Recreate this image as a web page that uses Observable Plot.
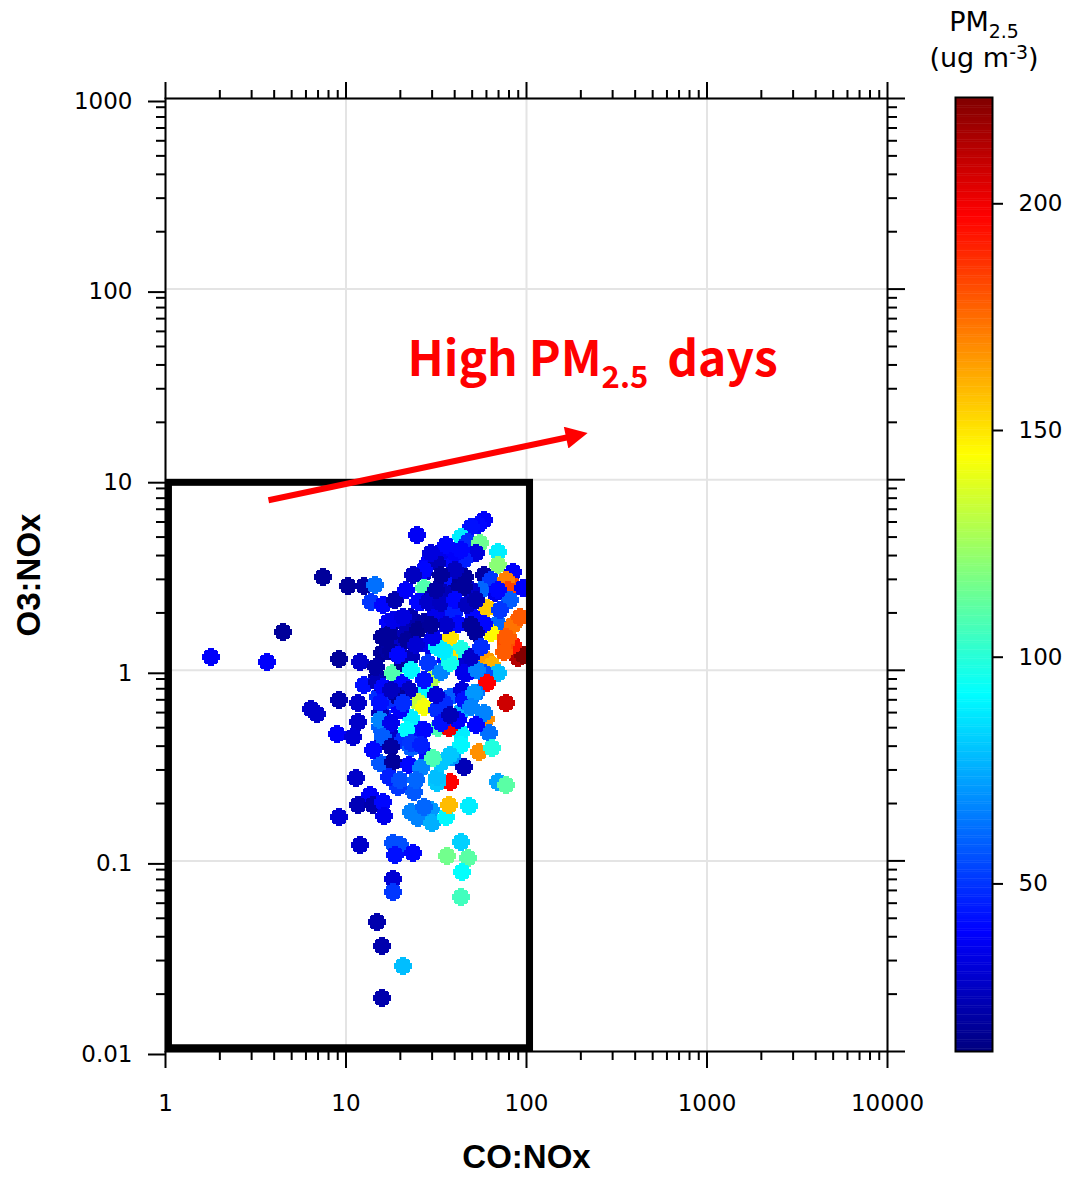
<!DOCTYPE html>
<html>
<head>
<meta charset="utf-8">
<script src="https://cdn.jsdelivr.net/npm/d3@7"></script>
<script src="https://cdn.jsdelivr.net/npm/@observablehq/plot@0.6"></script>
<style>
  html, body { margin: 0; padding: 0; background: white; }
  #wrap { position: relative; width: 1069px; height: 1177px; }
  #wrap svg { position: absolute; left: 0; top: 0; }
  #cbtitle { position: absolute; left: 904px; top: 4px; width: 160px; text-align: center;
    font-family: "DejaVu Sans", sans-serif; font-size: 27px; line-height: 36px; color: #000; }
  #cbtitle sub { font-size: 0.7em; vertical-align: -0.35em; line-height: 0; }
  #cbtitle sup { font-size: 0.7em; vertical-align: 0.45em; line-height: 0; }
</style>
</head>
<body>
<div id="wrap"><div id="cbtitle">PM<sub>2.5</sub><br>(ug m<sup>-3</sup>)</div></div>
<script>
// ---------------- data ----------------
const coNox = [1.78,3.63,4.5,7.5,10.2,12.6,14.4,13.8,9.2,12.0,6.36,6.95,9.2,11.7,11.7,8.97,11.0,14.9,12.6,15.9,
  17.0,15.9,15.1,15.9,15.5,16.1,11.4,9.09,12.0,13.5,11.7,14.2,16.1,16.3,18.3,20.0,18.8,23.4,18.3,18.3,
  23.7,22.8,24.9,29.4,30.1,35.6,37.0,48.3,37.9,32.1,69.1,76.5,43.1,36.5,47.7,44.2,43.1,14.8,15.9,20.8,
  15.9,76.5,59.3,54.9,61.6,64.0,32.5,43.1,44.8,38.9,32.1,25.9,89.2,96.2,84.7,76.5,74.6,78.5,60.8,64.8,
  69.1,57.8,60.8,52.2,47.1,43.1,35.6,28.6,35.6,43.1,37.9,37.0,28.3,32.1,20.0,17.0,16.1,18.3,20.8,29.4,
  26.9,24.9,26.9,20.8,22.2,33.4,37.9,32.1,37.9,43.1,49.0,37.0,43.1,25.2,22.8,20.0,17.0,15.5,18.3,20.8,
  22.8,14.9,14.6,24.6,57.8,54.2,49.0,43.1,47.7,55.6,52.2,69.1,69.1,44.8,37.9,33.4,28.3,26.9,35.6,43.1,
  57.8,63.2,84.7,83.6,76.5,78.5,81.5,67.3,56.2,49.0,39.8,34.7,26.9,28.3,34.2,39.8,40.4,50.9,60.8,69.1,
  63.2,84.7,92.6,76.5,19.3,22.8,26.9,31.6,17.8,21.4,25.2,32.1,40.4,96.2,18.3,20.8,25.9,28.6,26.9,45.9,
  44.8,33.4,39.8,41.5,57.8,52.2,34.7,22.8,17.8,21.9,30.5,24.9,22.8,26.9,44.8,53.5,49.0,56.2,16.1,19.3,
  15.5,20.8,34.7,44.2,44.8,50.9,15.5,17.8,21.9,26.9,33.4,41.5,49.0,57.8,16.1,17.8,22.8,28.3,15.5,18.3,
  22.2,25.9,33.4,30.5,37.9,19.3,17.2,26.9,35.6,29.4,16.1,
  18.8,21.4,23.4,31.6,40.4,47.1,49.0,35.6,29.4,24.3,19.3,17.8,31.6,37.9,52.2,25.9,14.1,20.0,24.3,69.1,
  71.6,52.2,40.4,33.4,43.1];
const o3Nox = [1.17,1.10,1.58,3.08,2.76,2.76,2.79,2.27,1.14,1.10,0.624,0.588,0.696,0.671,0.534,0.461,0.445,0.919,0.834,1.23,
  1.79,1.49,0.722,0.595,0.502,0.429,0.271,0.169,0.121,0.221,0.196,0.196,0.203,0.173,0.124,0.121,0.107,0.110,0.080,0.069,
  0.229,0.180,0.167,0.184,0.159,0.169,0.196,0.193,0.258,0.255,0.258,0.249,0.125,0.106,0.104,0.087,0.0644,0.0476,0.0356,0.028,
  0.019,0.671,0.553,0.371,0.467,0.39,0.496,0.467,0.31,0.35,0.275,0.31,1.156,1.2,1.35,1.39,1.24,1.49,1.13,1.062,
  0.964,0.964,0.855,0.757,0.964,1.088,1.128,1.088,1.32,1.30,1.49,1.17,1.35,1.32,1.35,1.27,1.49,0.964,1.088,0.886,
  0.785,0.679,0.64,0.855,0.785,0.976,1.088,0.617,0.722,0.602,0.64,0.496,0.404,0.484,0.56,0.617,0.696,0.595,0.445,0.429,
  0.39,0.865,1.037,5.11,6.12,5.77,5.63,4.99,4.69,4.64,4.11,4.16,3.55,3.78,3.78,4.16,3.64,3.23,3.04,2.9,
  3.15,2.97,3.27,2.79,2.97,2.63,2.33,2.54,2.63,2.63,2.57,2.54,2.69,2.33,2.14,2.06,1.79,1.9,2.11,1.76,
  1.56,1.72,1.9,1.49,1.83,1.9,1.79,1.99,1.56,1.56,2.27,3.64,4.11,2.69,1.83,1.9,2.27,2.27,3.35,3.08,
  2.73,2.25,1.99,1.76,1.76,1.56,1.27,1.17,1.27,1.44,1.49,1.62,1.0,0.886,0.964,1.0,1.17,1.32,0.814,0.722,
  0.671,0.671,0.671,0.785,0.696,0.757,0.547,0.527,0.484,0.484,0.527,0.547,0.64,0.595,0.445,0.394,0.414,0.35,0.325,0.329,
  0.317,0.306,0.325,0.345,0.358,0.243,0.275,0.191,4.53,4.11,2.19,
  2.33,2.63,3.15,2.63,2.33,2.19,1.72,1.72,1.72,1.35,1.2,0.785,0.74,0.58,0.515,0.404,0.38,0.265,0.265,2.63,
  2.06,2.33,3.35,3.15,4.27];
const pm25 = [38,38,18,18,18,20,62,50,18,28,28,28,22,28,28,38,30,18,42,18,
  38,18,48,45,58,25,28,30,28,38,24,22,40,35,55,55,42,40,30,50,
  57,66,66,70,75,90,158,88,197,80,73,110,82,115,110,92,105,22,22,78,
  22,207,167,167,62,98,107,88,24,70,78,70,212,222,193,181,178,178,165,160,
  78,55,197,62,40,30,42,50,95,97,150,150,35,88,28,20,18,108,18,128,
  91,132,142,40,26,66,95,48,58,75,78,200,90,42,88,38,48,24,28,48,
  58,24,20,37,38,40,42,88,48,114,32,88,120,45,40,35,38,26,42,17,
  20,50,38,181,170,183,58,35,60,28,18,24,108,20,78,24,57,40,155,60,
  145,173,178,178,32,22,20,35,18,24,40,24,38,38,35,32,40,28,40,18,
  18,26,45,40,40,18,88,24,18,18,35,16,90,42,35,66,28,48,40,18,
  42,48,48,32,42,70,66,35,91,40,42,38,66,66,58,20,50,40,57,18,
  40,66,80,107,80,50,45,60,40,32,40,
  22,38,26,20,40,26,18,28,18,30,40,26,30,24,40,45,40,55,60,40,
  50,22,26,18,40];

// axis ticks
const xMajor = [1, 10, 100, 1000, 10000];
const yMajor = [0.01, 0.1, 1, 10, 100, 1000];
const cbTicks = [50, 100, 150, 200];
const pmDomain = [12.6, 223];

// annotations (data units)
const boxX = [1.045, 104.6];
const boxY = [0.0104, 9.63];
const arrowX = [3.72, 180];
const arrowY = [7.8, 16.9];
const labelX = [21.9];
const labelY = [42];
const labelText = ["High PM2.5 days"];

// ---------------- build ----------------
const points = coNox.map((x, i) => ({x, y: o3Nox[i], pm: pm25[i]}));
const minorOf = (majors) => majors.slice(0, -1).flatMap(m => d3.range(2, 10).map(k => +(k * m).toPrecision(3)));
const xMinor = minorOf(xMajor);
const yMinor = minorOf(yMajor);

const jet = (t) => {
  const c = (v) => Math.round(255 * Math.max(0, Math.min(1, v)));
  return `rgb(${c(1.5 - Math.abs(4 * t - 3))},${c(1.5 - Math.abs(4 * t - 2))},${c(1.5 - Math.abs(4 * t - 1))})`;
};
const colorOpts = {type: "linear", domain: pmDomain, interpolate: jet};

const P = [[-3,-9],[3,-9],[3,-7],[6,-7],[6,-6],[7,-6],[7,-3],[9,-3],[9,3],[7,3],[7,6],[6,6],[6,7],[3,7],[3,9],
  [-3,9],[-3,7],[-6,7],[-6,6],[-7,6],[-7,3],[-9,3],[-9,-3],[-7,-3],[-7,-6],[-6,-6],[-6,-7],[-3,-7]];
const blob = {draw(ctx) { ctx.moveTo(P[0][0], P[0][1]); for (const [a, b] of P.slice(1)) ctx.lineTo(a, b); ctx.closePath(); }};

const solidHead = (color) => d3.create("svg:marker")
  .attr("viewBox", "0 0 10 10").attr("refX", 3).attr("refY", 5)
  .attr("markerUnits", "userSpaceOnUse").attr("markerWidth", 26).attr("markerHeight", 22)
  .attr("orient", "auto")
  .call((m) => m.append("path").attr("d", "M0,0L10,5L0,10z").attr("fill", color).attr("stroke", "none"))
  .node();

const tickFont = {fontSize: 23, fontFamily: "DejaVu Sans"};
const fmt = (d) => String(d);
const none = () => "";

const main = Plot.plot({
  width: 1069, height: 1177,
  marginLeft: 165, marginRight: 182, marginTop: 98, marginBottom: 126,
  x: {type: "log", domain: [1, 10000], label: null},
  y: {type: "log", domain: [0.01, 1000], label: null},
  color: colorOpts,
  style: {fontFamily: "DejaVu Sans", fontSize: "23px", color: "black", background: "white"},
  marks: [
    Plot.gridX(xMajor, {stroke: "#e4e4e4", strokeOpacity: 1, strokeWidth: 2}),
    Plot.gridY(yMajor, {stroke: "#e4e4e4", strokeOpacity: 1, strokeWidth: 2}),
    Plot.dot(points, {x: "x", y: "y", fill: "pm", symbol: blob, r: 9, shapeRendering: "crispEdges"}),
    Plot.rect([0], {x1: () => boxX[0], x2: () => boxX[1], y1: () => boxY[0], y2: () => boxY[1],
      fill: "none", stroke: "black", strokeWidth: 7}),
    Plot.link([0], {x1: () => arrowX[0], x2: () => arrowX[1], y1: () => arrowY[0], y2: () => arrowY[1],
      stroke: "#ff0000", strokeWidth: 6, markerEnd: solidHead}),
    Plot.text(labelText, {x: () => labelX[0], y: () => labelY[0], text: (d) => d, textAnchor: "start",
      fill: "#ff0000", fontSize: 48, fontWeight: "bold", fontFamily: "Noto Sans CJK KR"}),
    Plot.frame({stroke: "black", strokeWidth: 2}),
    Plot.axisX(xMajor, {anchor: "bottom", tickSize: 17, tickPadding: 26, tickFormat: fmt, label: null, strokeWidth: 2, ...tickFont}),
    Plot.axisX(xMinor, {anchor: "bottom", tickSize: 9, tickFormat: none, label: null, strokeWidth: 2}),
    Plot.axisX(xMajor, {anchor: "top", tickSize: 17, tickFormat: none, label: null, strokeWidth: 2}),
    Plot.axisX(xMinor, {anchor: "top", tickSize: 9, tickFormat: none, label: null, strokeWidth: 2}),
    Plot.axisY(yMajor, {anchor: "left", tickSize: 17, tickPadding: 16, tickFormat: fmt, label: null, strokeWidth: 2, dy: 3, ...tickFont}),
    Plot.axisY(yMinor, {anchor: "left", tickSize: 9, tickFormat: none, label: null, strokeWidth: 2}),
    Plot.axisY(yMajor, {anchor: "right", tickSize: 17, tickFormat: none, label: null, strokeWidth: 2}),
    Plot.axisY(yMinor, {anchor: "right", tickSize: 9, tickFormat: none, label: null, strokeWidth: 2}),
    Plot.text(["CO:NOx"], {frameAnchor: "bottom", dy: 116, fontSize: 33, fontWeight: "bold",
      fontFamily: "Liberation Sans", fill: "black"}),
    Plot.text(["O3:NOx"], {frameAnchor: "left", dx: -136, rotate: -90, textAnchor: "middle", lineAnchor: "middle",
      fontSize: 33, fontWeight: "bold", fontFamily: "Liberation Sans", fill: "black"})
  ]
});

// colour bar
const steps = d3.range(pmDomain[0], pmDomain[1], 0.5);
const cbar = Plot.plot({
  width: 1069, height: 1177,
  marginLeft: 955, marginRight: 77, marginTop: 97, marginBottom: 126,
  x: {domain: [0, 1], axis: null},
  y: {domain: pmDomain, label: null},
  color: colorOpts,
  style: {fontFamily: "DejaVu Sans", fontSize: "23px", color: "black", background: "transparent"},
  marks: [
    Plot.rect(steps, {x1: 0, x2: 1, y1: (d) => d, y2: (d) => Math.min(d + 0.6, pmDomain[1]), fill: (d) => d + 0.25}),
    Plot.frame({stroke: "black", strokeWidth: 2}),
    Plot.axisY(cbTicks, {anchor: "right", tickSize: 10, tickPadding: 16, tickFormat: fmt, label: null, strokeWidth: 2, dy: 2, ...tickFont})
  ]
});

const wrap = document.getElementById("wrap");
wrap.insertBefore(main, wrap.firstChild);
wrap.insertBefore(cbar, main.nextSibling);

// subscript in the annotation
d3.select(main).selectAll("text").filter(function () { return this.textContent === "High PM2.5 days"; })
  .each(function () {
    const t = d3.select(this);
    t.text(null);
    t.append("tspan").text("High PM");
    t.append("tspan").attr("font-size", 31).attr("dy", 12).text("2.5");
    t.append("tspan").attr("dy", -12).attr("dx", 8).text("\u00a0days");
  });
</script>
</body>
</html>
